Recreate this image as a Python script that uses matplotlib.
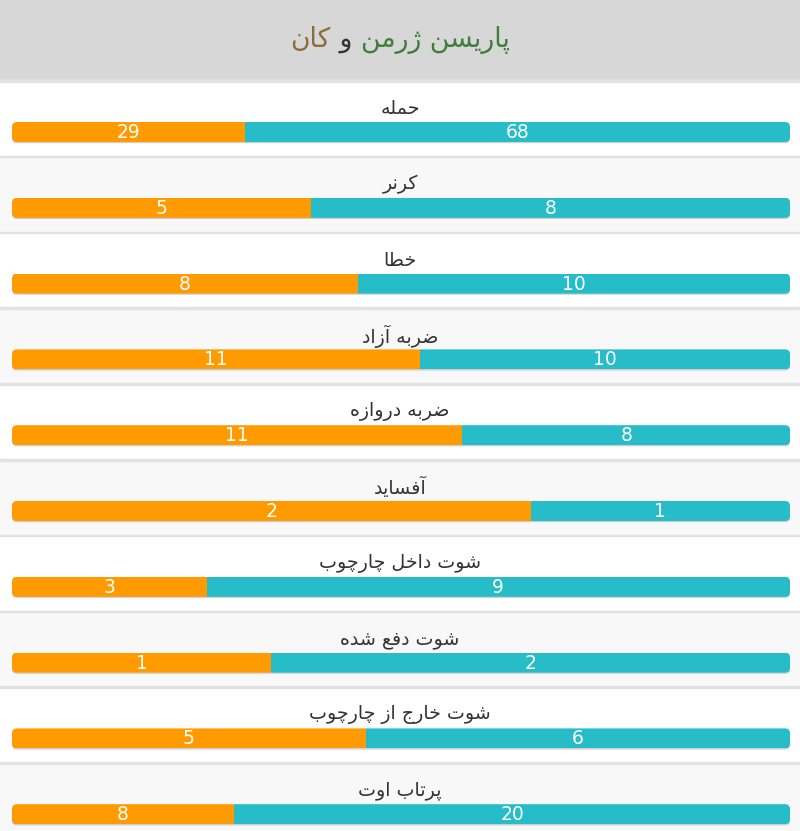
import matplotlib
matplotlib.use("Agg")
import matplotlib.pyplot as plt
from matplotlib.patches import Rectangle, FancyBboxPatch

# ---------------- data ----------------
title_home = "پاریسن ژرمن"
title_and = "و"
title_away = "کان"
categories = ["حمله", "کرنر", "خطا", "ضربه آزاد", "ضربه دروازه", "آفساید",
              "شوت داخل چارچوب", "شوت دفع شده", "شوت خارج از چارچوب", "پرتاب اوت"]
away_values = [29, 5, 8, 11, 11, 2, 3, 1, 5, 8]      # orange (left)
home_values = [68, 8, 10, 10, 8, 1, 9, 2, 6, 20]     # teal (right)

ORANGE = "#ff9a00"
TEAL = "#26bcc8"

# ------------- minimal Persian shaping (presentation forms) -------------
FORMS = {
    # isolated, final, initial, medial
    "ا": ("\uFE8D", "\uFE8E", None, None),
    "آ": ("\uFE81", "\uFE82", None, None),
    "ب": ("\uFE8F", "\uFE90", "\uFE91", "\uFE92"),
    "پ": ("\uFB56", "\uFB57", "\uFB58", "\uFB59"),
    "ت": ("\uFE95", "\uFE96", "\uFE97", "\uFE98"),
    "ث": ("\uFE99", "\uFE9A", "\uFE9B", "\uFE9C"),
    "ج": ("\uFE9D", "\uFE9E", "\uFE9F", "\uFEA0"),
    "چ": ("\uFB7A", "\uFB7B", "\uFB7C", "\uFB7D"),
    "ح": ("\uFEA1", "\uFEA2", "\uFEA3", "\uFEA4"),
    "خ": ("\uFEA5", "\uFEA6", "\uFEA7", "\uFEA8"),
    "د": ("\uFEA9", "\uFEAA", None, None),
    "ذ": ("\uFEAB", "\uFEAC", None, None),
    "ر": ("\uFEAD", "\uFEAE", None, None),
    "ز": ("\uFEAF", "\uFEB0", None, None),
    "ژ": ("\uFB8A", "\uFB8B", None, None),
    "س": ("\uFEB1", "\uFEB2", "\uFEB3", "\uFEB4"),
    "ش": ("\uFEB5", "\uFEB6", "\uFEB7", "\uFEB8"),
    "ص": ("\uFEB9", "\uFEBA", "\uFEBB", "\uFEBC"),
    "ض": ("\uFEBD", "\uFEBE", "\uFEBF", "\uFEC0"),
    "ط": ("\uFEC1", "\uFEC2", "\uFEC3", "\uFEC4"),
    "ظ": ("\uFEC5", "\uFEC6", "\uFEC7", "\uFEC8"),
    "ع": ("\uFEC9", "\uFECA", "\uFECB", "\uFECC"),
    "غ": ("\uFECD", "\uFECE", "\uFECF", "\uFED0"),
    "ف": ("\uFED1", "\uFED2", "\uFED3", "\uFED4"),
    "ق": ("\uFED5", "\uFED6", "\uFED7", "\uFED8"),
    "ک": ("\uFB8E", "\uFB8F", "\uFB90", "\uFB91"),
    "گ": ("\uFB92", "\uFB93", "\uFB94", "\uFB95"),
    "ل": ("\uFEDD", "\uFEDE", "\uFEDF", "\uFEE0"),
    "م": ("\uFEE1", "\uFEE2", "\uFEE3", "\uFEE4"),
    "ن": ("\uFEE5", "\uFEE6", "\uFEE7", "\uFEE8"),
    "ه": ("\uFEE9", "\uFEEA", "\uFEEB", "\uFEEC"),
    "و": ("\uFEED", "\uFEEE", None, None),
    "ی": ("\uFBFC", "\uFBFD", "\uFBFE", "\uFBFF"),
}


def dual(c):
    return c in FORMS and FORMS[c][2] is not None


def shape(text):
    out = []
    n = len(text)
    for i, c in enumerate(text):
        if c not in FORMS:
            out.append(c)
            continue
        prev = text[i - 1] if i > 0 else ""
        nxt = text[i + 1] if i < n - 1 else ""
        join_prev = dual(prev)
        join_next = dual(c) and nxt in FORMS
        iso, fin, ini, med = FORMS[c]
        if join_prev and join_next:
            out.append(med)
        elif join_prev:
            out.append(fin)
        elif join_next:
            out.append(ini)
        else:
            out.append(iso)
    return "".join(out)[::-1]


# ---------------- figure ----------------
W, H = 800, 831
fig = plt.figure(figsize=(W / 100, H / 100), dpi=100)
ax = fig.add_axes([0, 0, 1, 1])
ax.set_xlim(0, W)
ax.set_ylim(H, 0)
ax.axis("off")

HEADER = 80
ROW_H = 75.8
BAR_X0, BAR_X1 = 12, 790
BAR_W = BAR_X1 - BAR_X0
BAR_H = 20
FONT = "DejaVu Sans"

ax.add_patch(Rectangle((0, 0), W, HEADER, color="#d7d7d7", zorder=0))

for i, (cat, a, h) in enumerate(zip(categories, away_values, home_values)):
    top = HEADER + i * ROW_H
    bg = "#ffffff" if i % 2 == 0 else "#f8f8f8"
    ax.add_patch(Rectangle((0, top), W, ROW_H, color=bg, zorder=0))
    ax.add_patch(Rectangle((0, top), W, 1.6, color="#e2e2e2", zorder=1))
    ax.text(W / 2, top + 28.5, shape(cat), ha="center", va="center",
            fontsize=13.7, color="#333333", family=FONT, zorder=3)
    by = top + 42
    yc = by + BAR_H / 2
    frac = a / (a + h)
    # shadow
    sh = FancyBboxPatch((BAR_X0, by + 1.2), BAR_W, BAR_H,
                        boxstyle="round,pad=0,rounding_size=5",
                        fc="#9a9a9a", ec="none", alpha=0.45, zorder=1.5)
    ax.add_patch(sh)
    clip = FancyBboxPatch((BAR_X0, by), BAR_W, BAR_H,
                          boxstyle="round,pad=0,rounding_size=5",
                          fc="none", ec="none", transform=ax.transData)
    ax.add_patch(clip)
    b1 = ax.barh([yc], [frac * BAR_W], left=BAR_X0, height=BAR_H,
                 color=ORANGE, zorder=2)
    b2 = ax.barh([yc], [(1 - frac) * BAR_W], left=BAR_X0 + frac * BAR_W,
                 height=BAR_H, color=TEAL, zorder=2)
    for r in list(b1) + list(b2):
        r.set_clip_path(clip)
    ax.text(BAR_X0 + frac * BAR_W / 2, yc + 0.5, str(a), ha="center",
            va="center", fontsize=13.5, color="white", family=FONT, zorder=3)
    ax.text(BAR_X0 + frac * BAR_W + (1 - frac) * BAR_W / 2, yc + 0.5, str(h),
            ha="center", va="center", fontsize=13.5, color="white",
            family=FONT, zorder=3)

# ---------------- multi-colour title ----------------
renderer = fig.canvas.get_renderer()
parts = [(shape(title_away), "#8b6d3c"), (" " + title_and + " ", "#333333"),
         (shape(title_home), "#3f7d3a")]
texts = []
for s, col in parts:
    t = ax.text(0, 40, s, ha="left", va="center", fontsize=19.2, color=col,
                family=FONT, zorder=3)
    texts.append(t)
widths = [t.get_window_extent(renderer).width for t in texts]
total = sum(widths)
x = W / 2 - total / 2
for t, w in zip(texts, widths):
    t.set_x(x)
    x += w

fig.savefig("out.png", dpi=100)
